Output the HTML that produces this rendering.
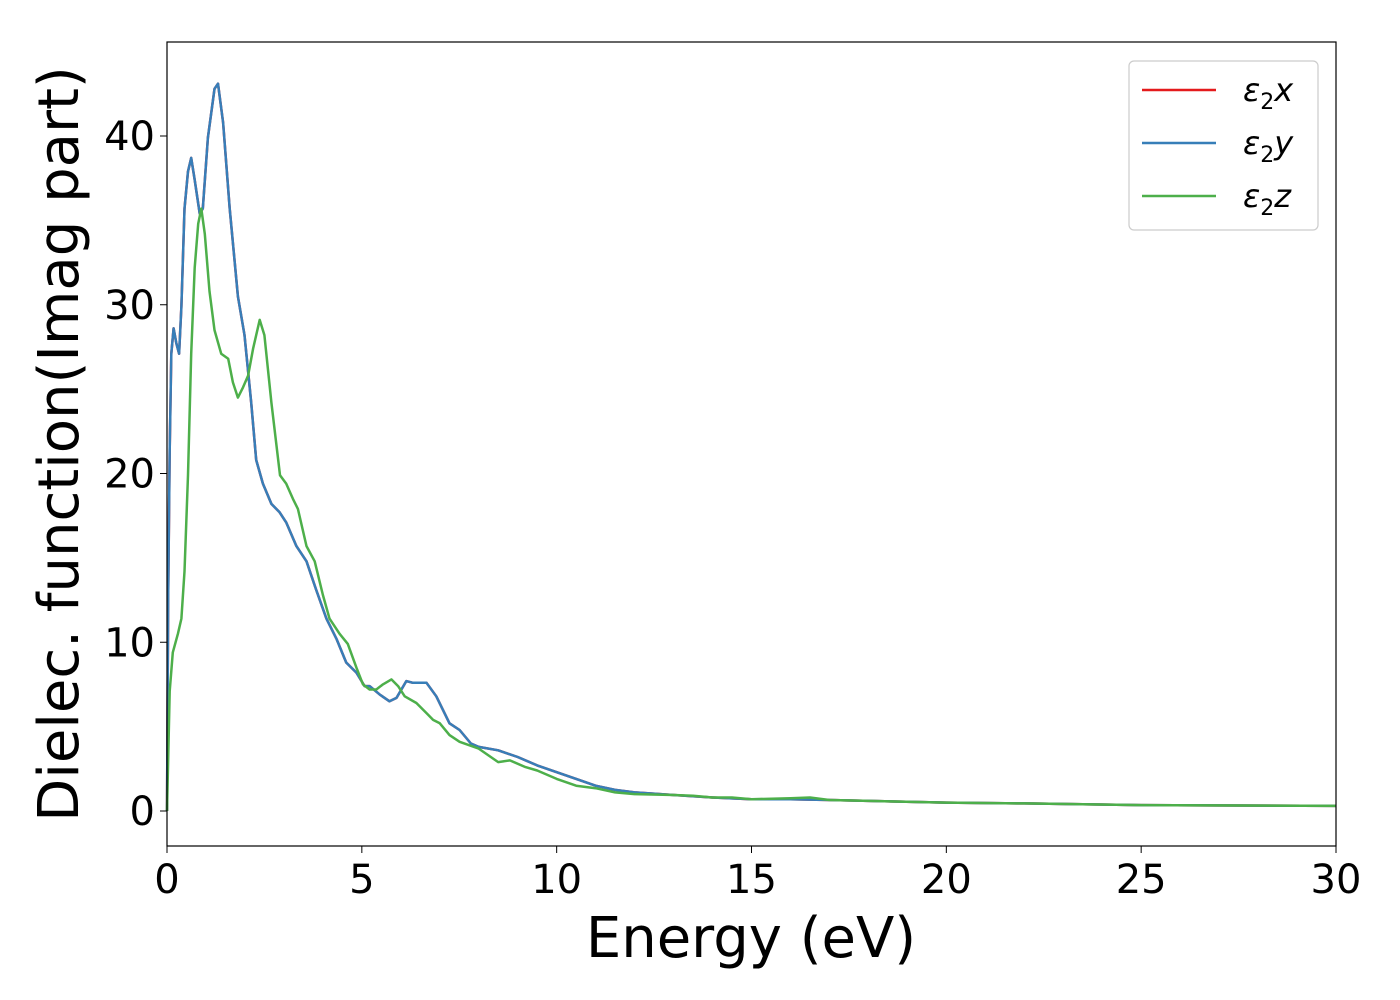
<!DOCTYPE html>
<html><head><meta charset="utf-8"><style>
body{margin:0;background:#fff}
svg{display:block;font-family:"DejaVu Sans","Liberation Sans",sans-serif}
</style></head><body>
<svg id="chart" width="1400" height="1000" viewBox="0 0 1400 1000" xmlns="http://www.w3.org/2000/svg">
<rect width="1400" height="1000" fill="#fff"/>
<g id="series"></g>
<rect x="167" y="42" width="1169" height="804" fill="none" stroke="#000" stroke-width="1.2"/>
<g id="ticks" font-size="40" fill="#000"></g>
<text x="751" y="957" font-size="56" text-anchor="middle">Energy (eV)</text>
<text transform="translate(78,444) rotate(-90)" font-size="56" text-anchor="middle">Dielec. function(Imag part)</text>
<g>
<rect x="1129" y="61" width="189" height="169" rx="5" fill="#fff" stroke="#ccc" stroke-width="1.2"/>
<line x1="1142" y1="90" x2="1216" y2="90" stroke="#e41a1c" stroke-width="2.5"/>
<text x="1243" y="101" font-size="32"><tspan font-style="italic">ε</tspan><tspan font-size="22" dy="8">2</tspan><tspan font-style="italic" dy="-8">x</tspan></text>
<line x1="1142" y1="143" x2="1216" y2="143" stroke="#377eb8" stroke-width="2.5"/>
<text x="1243" y="154" font-size="32"><tspan font-style="italic">ε</tspan><tspan font-size="22" dy="8">2</tspan><tspan font-style="italic" dy="-8">y</tspan></text>
<line x1="1142" y1="196" x2="1216" y2="196" stroke="#4daf4a" stroke-width="2.5"/>
<text x="1243" y="207" font-size="32"><tspan font-style="italic">ε</tspan><tspan font-size="22" dy="8">2</tspan><tspan font-style="italic" dy="-8">z</tspan></text>
</g>
</svg>
<script>
const xyE=[0,0.03,0.07,0.11,0.17,0.24,0.31,0.37,0.45,0.54,0.62,0.71,0.84,0.92,1.05,1.22,1.31,1.44,1.61,1.82,1.99,2.16,2.29,2.46,2.68,2.89,3.06,3.32,3.58,3.83,4.09,4.35,4.6,4.86,5.07,5.2,5.46,5.71,5.89,6.14,6.31,6.66,6.91,7.25,7.51,7.8,8.0,8.5,9,9.5,10,10.5,11,11.5,12,13,14,15,16,17,18,20,22,25,30];
const xyV=[0,12.8,21.4,27.1,28.6,27.7,27.1,29.9,35.7,37.9,38.7,37.4,35.4,35.7,39.9,42.8,43.1,40.8,35.7,30.5,28.2,24.2,20.8,19.4,18.2,17.7,17.1,15.7,14.8,13.1,11.4,10.2,8.8,8.2,7.4,7.4,6.9,6.5,6.7,7.7,7.6,7.6,6.8,5.2,4.8,4.0,3.8,3.6,3.2,2.7,2.3,1.9,1.5,1.25,1.1,0.95,0.8,0.7,0.7,0.65,0.6,0.5,0.45,0.35,0.3];
const zE=[0,0.07,0.15,0.28,0.37,0.45,0.54,0.62,0.71,0.8,0.88,0.97,1.09,1.22,1.39,1.57,1.69,1.82,1.95,2.08,2.21,2.38,2.5,2.68,2.9,3.06,3.23,3.36,3.58,3.79,4.0,4.17,4.43,4.64,4.86,5.03,5.2,5.37,5.54,5.76,5.93,6.1,6.4,6.66,6.83,7.0,7.25,7.51,8.0,8.5,8.8,9.2,9.5,10,10.5,11,11.5,12,13,13.5,14,14.5,15,16,16.5,17,18,20,22,25,30];
const zV=[0,7.1,9.4,10.5,11.4,14.2,19.9,27.1,32.2,34.8,35.7,34.2,30.8,28.5,27.1,26.8,25.4,24.5,25.1,25.8,27.4,29.1,28.2,24.2,19.9,19.4,18.5,17.9,15.7,14.8,12.8,11.4,10.5,9.9,8.5,7.5,7.2,7.2,7.5,7.8,7.4,6.8,6.4,5.8,5.4,5.2,4.5,4.1,3.7,2.9,3.0,2.6,2.4,1.9,1.5,1.35,1.1,1.0,0.95,0.9,0.8,0.8,0.7,0.75,0.8,0.65,0.6,0.5,0.45,0.35,0.3];
const xTicks=[0,5,10,15,20,25,30];
const yTicks=[0,10,20,30,40];
const X=v=>167+v*(1169/30);
const Y=v=>811-v*16.875;
const NS='http://www.w3.org/2000/svg';
const g=document.getElementById('series');
function path(E,V){let d='';for(let i=0;i<E.length;i++){d+=(i?'L':'M')+X(E[i]).toFixed(1)+','+Y(V[i]).toFixed(1);}return d;}
[['series-eps2-x',xyE,xyV,'#e41a1c'],['series-eps2-y',xyE,xyV,'#377eb8'],['series-eps2-z',zE,zV,'#4daf4a']].forEach(s=>{
const p=document.createElementNS(NS,'path');
p.setAttribute('d',path(s[1],s[2]));p.setAttribute('fill','none');p.setAttribute('stroke',s[3]);
p.setAttribute('stroke-width','2.5');p.setAttribute('stroke-linejoin','round');


g.appendChild(p);});
const t=document.getElementById('ticks');
xTicks.forEach(v=>{
const l=document.createElementNS(NS,'line');l.setAttribute('x1',X(v));l.setAttribute('x2',X(v));l.setAttribute('y1',846);l.setAttribute('y2',853);l.setAttribute('stroke','#000');


t.appendChild(l);
const tx=document.createElementNS(NS,'text');tx.setAttribute('x',X(v));tx.setAttribute('y',893);tx.setAttribute('text-anchor','middle');tx.textContent=v;


t.appendChild(tx);});
yTicks.forEach(v=>{
const l=document.createElementNS(NS,'line');l.setAttribute('x1',160);l.setAttribute('x2',167);l.setAttribute('y1',Y(v));l.setAttribute('y2',Y(v));l.setAttribute('stroke','#000');


t.appendChild(l);
const tx=document.createElementNS(NS,'text');tx.setAttribute('x',155);tx.setAttribute('y',Y(v)+14);tx.setAttribute('text-anchor','end');tx.textContent=v;


t.appendChild(tx);});
</script>
</body></html>
